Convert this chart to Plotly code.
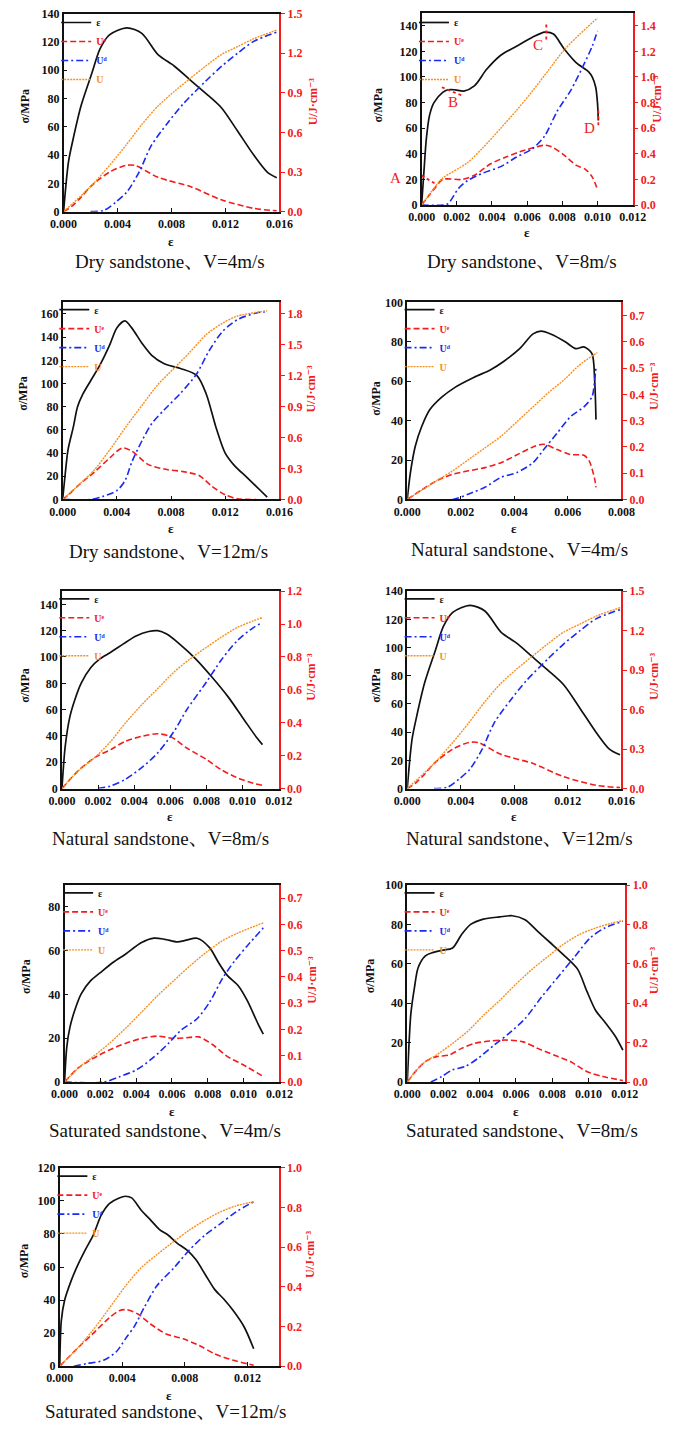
import plotly.graph_objects as go

# ======================= DATA =======================
# Panel 1: Dry sandstone, V=4m/s
dry4_sig_x = [0, 0.00036, 0.0007, 0.0013, 0.0021, 0.0027, 0.0034, 0.0047, 0.0058, 0.007, 0.0082, 0.0094, 0.0105, 0.0117, 0.0129, 0.0141, 0.0151, 0.0158]
dry4_sig_y = [0, 35, 51, 75, 98, 115, 125, 130, 126, 111, 103, 93, 84, 73.5, 57, 40, 28, 24]
dry4_ue_x = [0, 0.0006, 0.0013, 0.002, 0.0034, 0.0046, 0.0053, 0.007, 0.0094, 0.0117, 0.0141, 0.0158]
dry4_ue_y = [0, 0.04, 0.11, 0.19, 0.30, 0.35, 0.35, 0.26, 0.19, 0.09, 0.025, 0.007]
dry4_ud_x = [0.002, 0.003, 0.0039, 0.0047, 0.0056, 0.0065, 0.0077, 0.0089, 0.0105, 0.0117, 0.0129, 0.0141, 0.0158]
dry4_ud_y = [0, 0.01, 0.075, 0.15, 0.30, 0.50, 0.67, 0.82, 0.985, 1.10, 1.20, 1.29, 1.36]
dry4_u_x = [0, 0.002, 0.0034, 0.0046, 0.0058, 0.007, 0.0082, 0.0094, 0.0105, 0.0117, 0.0129, 0.0141, 0.0158]
dry4_u_y = [0, 0.19, 0.35, 0.50, 0.66, 0.80, 0.91, 1.01, 1.10, 1.19, 1.25, 1.31, 1.375]

# Panel 2: Dry sandstone, V=8m/s
dry8_sig_x = [0, 0.00013, 0.00027, 0.00045, 0.0007, 0.0012, 0.0015, 0.0019, 0.0024, 0.003, 0.0037, 0.0045, 0.0054, 0.0063, 0.007, 0.0075, 0.0081, 0.0088, 0.0095, 0.0097, 0.0099, 0.0100, 0.01005]
dry8_sig_y = [0, 26, 52, 70, 80, 88, 90, 90, 89, 93, 106, 117, 124, 131, 135, 133.5, 122, 111, 104, 100, 92, 80, 66]
dry8_ue_x = [0, 0.00045, 0.0008, 0.0012, 0.0023, 0.003, 0.0039, 0.0048, 0.0059, 0.007, 0.0074, 0.0081, 0.0088, 0.0093, 0.0097, 0.0100]
dry8_ue_y = [0, 0.08, 0.14, 0.20, 0.20, 0.233, 0.32, 0.375, 0.43, 0.467, 0.455, 0.39, 0.31, 0.28, 0.22, 0.12]
dry8_ud_x = [0, 0.0012, 0.0015, 0.0021, 0.0026, 0.0035, 0.0045, 0.0054, 0.0063, 0.007, 0.0077, 0.0085, 0.0092, 0.0097, 0.0100]
dry8_ud_y = [0, 0, 0.01, 0.13, 0.19, 0.25, 0.30, 0.375, 0.44, 0.54, 0.73, 0.90, 1.09, 1.24, 1.36]
dry8_u_x = [0, 0.00064, 0.0012, 0.0026, 0.0035, 0.0045, 0.0054, 0.0063, 0.0072, 0.0081, 0.009, 0.0100]
dry8_u_y = [0, 0.12, 0.21, 0.33, 0.45, 0.60, 0.74, 0.89, 1.05, 1.21, 1.335, 1.46]
# point markers A-D (dotted red marks and letters)
dry8_mark_labels = ["A", "B", "C", "D"]
dry8_mark_text_x = [-0.00145, 0.0018, 0.00664, 0.00955]
dry8_mark_text_y = [20.7, 80.4, 125, 60]
dry8_mark_seg_x = [[0, 0.0008], [0.00115, 0.00227], [0.00709, 0.00709], [0.01005, 0.01005]]
dry8_mark_seg_y = [[23, 16.5], [92, 85.6], [141, 127], [74, 60]]

# Panel 3: Dry sandstone, V=12m/s
dry12_sig_x = [0, 0.0002, 0.0004, 0.0008, 0.0011, 0.0015, 0.0021, 0.0028, 0.0035, 0.004, 0.0046, 0.0051, 0.0059, 0.0066, 0.0075, 0.0087, 0.0099, 0.0106, 0.0113, 0.012, 0.0127, 0.0136, 0.0146, 0.0151]
dry12_sig_y = [0, 23, 43, 63, 80, 91, 103, 117, 134, 148, 154, 148, 134, 124, 117, 113, 107, 91, 63, 40, 29, 19, 7.7, 2]
dry12_ue_x = [0, 0.0004, 0.0011, 0.0023, 0.0035, 0.0044, 0.0051, 0.0063, 0.0077, 0.0089, 0.0101, 0.011, 0.012, 0.0129, 0.0143]
dry12_ue_y = [0, 0.04, 0.13, 0.26, 0.405, 0.50, 0.47, 0.34, 0.29, 0.27, 0.23, 0.13, 0.045, 0.006, 0]
dry12_ud_x = [0, 0.0021, 0.003, 0.004, 0.0046, 0.0051, 0.0059, 0.0066, 0.0075, 0.0087, 0.0099, 0.0108, 0.0118, 0.0129, 0.0143, 0.0151]
dry12_ud_y = [0, 0, 0.03, 0.086, 0.18, 0.36, 0.58, 0.74, 0.87, 1.03, 1.22, 1.44, 1.63, 1.745, 1.81, 1.825]
dry12_u_x = [0, 0.0011, 0.0023, 0.0035, 0.0047, 0.0059, 0.007, 0.0082, 0.0094, 0.0106, 0.0118, 0.0129, 0.0151]
dry12_u_y = [0, 0.13, 0.28, 0.485, 0.71, 0.92, 1.11, 1.27, 1.43, 1.60, 1.71, 1.78, 1.83]

# Panel 4: Natural sandstone, V=4m/s
nat4_sig_x = [0, 0.00012, 0.0003, 0.00054, 0.00084, 0.0013, 0.0018, 0.0025, 0.0031, 0.0036, 0.0042, 0.0047, 0.005, 0.0054, 0.0059, 0.0063, 0.0066, 0.0069, 0.0070, 0.00705]
nat4_sig_y = [0, 13.7, 27, 37, 45.5, 52, 57, 62, 65.7, 70, 76.5, 84, 85.4, 83.7, 80, 76.5, 77.4, 74, 60.6, 40.5]
nat4_ue_x = [0, 0.0005, 0.0011, 0.0017, 0.0023, 0.0029, 0.0035, 0.0041, 0.0047, 0.0051, 0.0056, 0.0061, 0.0066, 0.0068, 0.007, 0.00705]
nat4_ue_y = [0, 0.034, 0.071, 0.096, 0.109, 0.121, 0.14, 0.17, 0.20, 0.21, 0.19, 0.171, 0.168, 0.146, 0.078, 0.046]
nat4_ud_x = [0, 0.0017, 0.0023, 0.0029, 0.0035, 0.0041, 0.0047, 0.0051, 0.0056, 0.0061, 0.0066, 0.0069, 0.0070, 0.00705]
nat4_ud_y = [0, 0, 0.021, 0.046, 0.084, 0.1025, 0.14, 0.19, 0.2525, 0.315, 0.3525, 0.39, 0.4525, 0.5025]
nat4_u_x = [0, 0.0011, 0.0017, 0.0023, 0.0029, 0.0035, 0.0041, 0.0047, 0.0053, 0.0059, 0.0064, 0.0071]
nat4_u_y = [0, 0.071, 0.109, 0.1525, 0.196, 0.24, 0.296, 0.3525, 0.409, 0.459, 0.509, 0.559]

# Panel 5: Natural sandstone, V=8m/s
nat8_sig_x = [0, 0.00018, 0.00044, 0.0007, 0.00106, 0.0016, 0.0021, 0.0027, 0.0034, 0.0041, 0.0048, 0.0053, 0.0058, 0.0065, 0.0074, 0.0083, 0.0092, 0.0101, 0.0108, 0.0111]
nat8_sig_y = [0, 32, 54.7, 67, 80, 92, 98.6, 103.6, 110, 116, 119.4, 120, 117.4, 110, 98.6, 84.8, 69.7, 52, 38.4, 33.4]
nat8_ue_x = [0, 0.00088, 0.0018, 0.0027, 0.0035, 0.0044, 0.0053, 0.006, 0.0069, 0.008, 0.0088, 0.0097, 0.0106, 0.0111]
nat8_ue_y = [0, 0.106, 0.187, 0.237, 0.287, 0.317, 0.333, 0.317, 0.247, 0.177, 0.116, 0.066, 0.032, 0.02]
nat8_ud_x = [0.002, 0.0027, 0.0035, 0.0044, 0.0053, 0.0062, 0.0069, 0.008, 0.0088, 0.0097, 0.0106, 0.0111]
nat8_ud_y = [0, 0.016, 0.056, 0.126, 0.217, 0.347, 0.478, 0.648, 0.779, 0.899, 0.979, 1.01]
nat8_u_x = [0, 0.00088, 0.0018, 0.0027, 0.0035, 0.0044, 0.0053, 0.0062, 0.0071, 0.008, 0.0088, 0.0097, 0.0106, 0.0111]
nat8_u_y = [0, 0.106, 0.187, 0.287, 0.397, 0.508, 0.608, 0.708, 0.789, 0.859, 0.919, 0.979, 1.02, 1.04]

# Panel 6: Natural sandstone, V=12m/s
nat12_sig_x = [0, 0.00036, 0.0007, 0.0013, 0.0021, 0.0027, 0.0034, 0.0047, 0.0058, 0.007, 0.0082, 0.0094, 0.0105, 0.0117, 0.0129, 0.0141, 0.0151, 0.0159]
nat12_sig_y = [0, 35, 51, 75, 98, 115, 125, 130, 126, 111, 103, 93, 84, 73.5, 57, 40, 28, 24]
nat12_ue_x = [0, 0.0006, 0.0013, 0.002, 0.0034, 0.0046, 0.0053, 0.007, 0.0094, 0.0117, 0.0141, 0.0159]
nat12_ue_y = [0, 0.04, 0.11, 0.19, 0.30, 0.35, 0.35, 0.26, 0.19, 0.09, 0.025, 0.007]
nat12_ud_x = [0.002, 0.003, 0.0039, 0.0047, 0.0056, 0.0065, 0.0077, 0.0089, 0.0105, 0.0117, 0.0129, 0.0141, 0.0159]
nat12_ud_y = [0, 0.01, 0.075, 0.15, 0.30, 0.50, 0.67, 0.82, 0.985, 1.10, 1.20, 1.29, 1.36]
nat12_u_x = [0, 0.002, 0.0034, 0.0046, 0.0058, 0.007, 0.0082, 0.0094, 0.0105, 0.0117, 0.0129, 0.0141, 0.0159]
nat12_u_y = [0, 0.19, 0.35, 0.50, 0.66, 0.80, 0.91, 1.01, 1.10, 1.19, 1.25, 1.31, 1.375]

# Panel 7: Saturated sandstone, V=4m/s
sat4_sig_x = [0, 0.000125, 0.0003, 0.00057, 0.00093, 0.00146, 0.002, 0.0027, 0.0034, 0.0043, 0.005, 0.0056, 0.0063, 0.0068, 0.0074, 0.0081, 0.0086, 0.0091, 0.0097, 0.0102, 0.0108, 0.0111]
sat4_sig_y = [0, 16, 25, 32.8, 40.3, 46.3, 50, 54.6, 58.4, 63.7, 65.7, 65.2, 64, 64.8, 65.7, 61.4, 54.6, 48.6, 44, 37.3, 26.7, 21.9]
sat4_ue_x = [0, 0.00075, 0.0016, 0.0025, 0.0034, 0.0043, 0.0052, 0.0061, 0.007, 0.0075, 0.0083, 0.0091, 0.01, 0.0111]
sat4_ue_y = [0, 0.053, 0.09, 0.122, 0.147, 0.166, 0.175, 0.166, 0.17, 0.172, 0.141, 0.097, 0.065, 0.021]
sat4_ud_x = [0, 0.0022, 0.0031, 0.004, 0.0049, 0.0058, 0.0065, 0.0074, 0.0081, 0.0088, 0.0095, 0.0102, 0.0111]
sat4_ud_y = [0, 0, 0.021, 0.046, 0.09, 0.147, 0.197, 0.241, 0.304, 0.392, 0.461, 0.518, 0.587]
sat4_u_x = [0, 0.00075, 0.0016, 0.0025, 0.0034, 0.0043, 0.0052, 0.0061, 0.007, 0.0079, 0.0088, 0.0097, 0.0111]
sat4_u_y = [0, 0.053, 0.097, 0.147, 0.204, 0.266, 0.329, 0.386, 0.442, 0.493, 0.537, 0.568, 0.606]

# Panel 8: Saturated sandstone, V=8m/s
sat8_sig_x = [0, 0.00009, 0.0002, 0.0004, 0.0006, 0.001, 0.0014, 0.0019, 0.0025, 0.003, 0.0035, 0.0042, 0.0051, 0.0058, 0.0065, 0.0072, 0.0079, 0.0086, 0.0094, 0.0099, 0.0104, 0.0109, 0.0115, 0.0119]
sat8_sig_y = [0, 18, 34.7, 48, 58, 64, 65.7, 66.8, 68, 74.9, 80, 82.7, 83.8, 84.4, 82.4, 76.5, 70.7, 64.8, 57.3, 46.4, 36.3, 30.5, 23, 16.2]
sat8_ue_x = [0, 0.00053, 0.001, 0.0016, 0.0023, 0.003, 0.0037, 0.0046, 0.0055, 0.0064, 0.0072, 0.0081, 0.009, 0.0099, 0.0108, 0.0119]
sat8_ue_y = [0, 0.062, 0.104, 0.129, 0.137, 0.171, 0.196, 0.209, 0.213, 0.204, 0.171, 0.137, 0.104, 0.054, 0.028, 0.008]
sat8_ud_x = [0.0013, 0.0019, 0.0025, 0.0032, 0.0039, 0.0048, 0.0056, 0.0065, 0.0074, 0.0083, 0.0092, 0.0101, 0.0109, 0.0119]
sat8_ud_y = [0, 0.028, 0.062, 0.079, 0.12, 0.188, 0.246, 0.322, 0.43, 0.531, 0.631, 0.732, 0.782, 0.816]
sat8_u_x = [0, 0.00053, 0.001, 0.0016, 0.0025, 0.0034, 0.0042, 0.0051, 0.006, 0.0069, 0.0078, 0.0086, 0.0095, 0.0104, 0.0113, 0.0119]
sat8_u_y = [0, 0.062, 0.104, 0.137, 0.196, 0.263, 0.338, 0.414, 0.497, 0.573, 0.64, 0.698, 0.749, 0.782, 0.807, 0.819]

# Panel 9: Saturated sandstone, V=12m/s
sat12_sig_x = [0, 0.0001, 0.0003, 0.00072, 0.00112, 0.00164, 0.00215, 0.00266, 0.00317, 0.0038, 0.0042, 0.0046, 0.0052, 0.0058, 0.0064, 0.0069, 0.0075, 0.0081, 0.0087, 0.0093, 0.0099, 0.0105, 0.0111, 0.0118, 0.0124]
sat12_sig_y = [0, 27.6, 39.5, 51.5, 60.5, 70.5, 79.5, 91.5, 98.4, 101.8, 102.8, 101.8, 94.5, 88.5, 82.5, 79.5, 74.5, 70.5, 64.5, 55.5, 46.5, 40.5, 33.5, 23.6, 10.6]
sat12_ue_x = [0, 0.0011, 0.0021, 0.0032, 0.0038, 0.0043, 0.005, 0.0058, 0.0068, 0.0079, 0.0089, 0.0099, 0.0111, 0.0124]
sat12_ue_y = [0, 0.088, 0.163, 0.246, 0.28, 0.285, 0.263, 0.213, 0.163, 0.138, 0.105, 0.063, 0.03, 0.005]
sat12_ud_x = [0.0009, 0.0017, 0.0028, 0.0036, 0.0042, 0.0048, 0.0054, 0.0062, 0.0073, 0.0083, 0.0093, 0.0103, 0.0113, 0.0124]
sat12_ud_y = [0, 0.013, 0.03, 0.072, 0.138, 0.205, 0.296, 0.404, 0.496, 0.587, 0.662, 0.72, 0.779, 0.829]
sat12_u_x = [0, 0.0011, 0.0021, 0.0032, 0.0042, 0.0052, 0.0062, 0.0073, 0.0083, 0.0093, 0.0103, 0.0113, 0.0124]
sat12_u_y = [0, 0.088, 0.18, 0.296, 0.404, 0.496, 0.562, 0.629, 0.687, 0.737, 0.779, 0.809, 0.829]

captions = ["Dry sandstone、V=4m/s", "Dry sandstone、V=8m/s", "Dry sandstone、V=12m/s",
            "Natural sandstone、V=4m/s", "Natural sandstone、V=8m/s", "Natural sandstone、V=12m/s",
            "Saturated sandstone、V=4m/s", "Saturated sandstone、V=8m/s", "Saturated sandstone、V=12m/s"]

series = [
    (dry4_sig_x, dry4_sig_y, dry4_ue_x, dry4_ue_y, dry4_ud_x, dry4_ud_y, dry4_u_x, dry4_u_y),
    (dry8_sig_x, dry8_sig_y, dry8_ue_x, dry8_ue_y, dry8_ud_x, dry8_ud_y, dry8_u_x, dry8_u_y),
    (dry12_sig_x, dry12_sig_y, dry12_ue_x, dry12_ue_y, dry12_ud_x, dry12_ud_y, dry12_u_x, dry12_u_y),
    (nat4_sig_x, nat4_sig_y, nat4_ue_x, nat4_ue_y, nat4_ud_x, nat4_ud_y, nat4_u_x, nat4_u_y),
    (nat8_sig_x, nat8_sig_y, nat8_ue_x, nat8_ue_y, nat8_ud_x, nat8_ud_y, nat8_u_x, nat8_u_y),
    (nat12_sig_x, nat12_sig_y, nat12_ue_x, nat12_ue_y, nat12_ud_x, nat12_ud_y, nat12_u_x, nat12_u_y),
    (sat4_sig_x, sat4_sig_y, sat4_ue_x, sat4_ue_y, sat4_ud_x, sat4_ud_y, sat4_u_x, sat4_u_y),
    (sat8_sig_x, sat8_sig_y, sat8_ue_x, sat8_ue_y, sat8_ud_x, sat8_ud_y, sat8_u_x, sat8_u_y),
    (sat12_sig_x, sat12_sig_y, sat12_ue_x, sat12_ue_y, sat12_ud_x, sat12_ud_y, sat12_u_x, sat12_u_y),
]

# ======================= LAYOUT (pixel geometry, axis ranges) =======================
W, H = 685, 1429
geo = [
    dict(xd=(51.7, 276.7), yd=(6.7, 206.7), xr=0.016, xdt=0.004, yr=140, y2r=1.5, y2dt=0.3, cap=(163, 257), xt=237, yt=(12, 100), y2t=(312, 95), leg=(44, 1)),
    dict(xd=(425, 645), yd=(6, 200), xr=0.012, xdt=0.002, yr=150, y2r=1.5, y2dt=0.2, cap=(530, 257), xt=228, yt=(380, 99), y2t=(671, 93), leg=(417, 1)),
    dict(xd=(50.7, 276.7), yd=(298.3, 497.3), xr=0.016, xdt=0.004, yr=170, y2r=1.9125, y2dt=0.3, cap=(161, 550), xt=527, yt=(10, 390), y2t=(310, 385), leg=(42, 291)),
    dict(xd=(410, 633.3), yd=(298.3, 497.3), xr=0.008, xdt=0.002, yr=100, y2r=0.75, y2dt=0.1, cap=(527, 548), xt=527, yt=(378, 395), y2t=(668, 383), leg=(402, 291)),
    dict(xd=(50, 276), yd=(590, 789.3), xr=0.012, xdt=0.002, yr=150, y2r=1.2, y2dt=0.2, cap=(153, 840), xt=818, yt=(12, 685), y2t=(310, 676), leg=(42, 583)),
    dict(xd=(410, 633.3), yd=(590, 789.3), xr=0.016, xdt=0.004, yr=140, y2r=1.5, y2dt=0.3, cap=(527, 840), xt=818, yt=(378, 685), y2t=(668, 676), leg=(402, 583)),
    dict(xd=(52.7, 276.7), yd=(886.7, 1085.7), xr=0.012, xdt=0.002, yr=90, y2r=0.75, y2dt=0.1, cap=(157, 1135), xt=1115, yt=(13, 979), y2t=(311, 982), leg=(46, 880)),
    dict(xd=(410, 636.7), yd=(886.7, 1085.7), xr=0.012, xdt=0.002, yr=100, y2r=1.0, y2dt=0.2, cap=(530, 1135), xt=1115, yt=(372, 978), y2t=(668, 973), leg=(402, 880)),
    dict(xd=(47.7, 276), yd=(1172.3, 1372.7), xr=0.014, xdt=0.004, yr=120, y2r=1.0, y2dt=0.2, cap=(158, 1418), xt=1402, yt=(10, 1266), y2t=(308, 1259), leg=(40, 1166)),
]
# pixel position of the "A" label (it sits left of the Dry 8 m/s axis)
A_LABEL_PX = (398, 173)

BLACK = "#111111"
RED = "#f21c1c"
BLUE = "#1b2af0"
ORANGE = "#f7901e"
SERIF = "Liberation Serif, DejaVu Serif"
CAPFONT = "Liberation Serif, Noto Serif CJK SC, Noto Sans CJK SC"


def fx(px):
    return px / W


def fy(py):
    return 1 - py / H


fig = go.Figure()
layout = dict(width=W, height=H, margin=dict(l=0, r=0, t=0, b=0),
              paper_bgcolor="white", plot_bgcolor="white", showlegend=True,
              font=dict(family=SERIF, size=12, color=BLACK))
annotations = []

tickfont = dict(family=SERIF, size=12, color=BLACK, weight="bold")

for i, (cap, s, g) in enumerate(zip(captions, series, geo)):
    n = i + 1
    xa = "x" if n == 1 else f"x{n}"
    ya = "y" if n == 1 else f"y{n}"
    ya2 = f"y{n + 9}"
    leg = "legend" if n == 1 else f"legend{n}"
    sx, sy, ex, ey, dx, dy, ux, uy = s

    common = dict(mode="lines", line_shape="spline", legend=leg, hoverinfo="skip")
    fig.add_trace(go.Scatter(x=sx, y=sy, xaxis=xa, yaxis=ya, name="ε",
                             line=dict(color=BLACK, width=1.7, smoothing=0.8), **common))
    fig.add_trace(go.Scatter(x=ex, y=ey, xaxis=xa, yaxis=ya2,
                             name=f'<span style="color:{RED}">Uᵉ</span>',
                             line=dict(color=RED, width=1.6, dash="6px,3px", smoothing=0.8), **common))
    fig.add_trace(go.Scatter(x=dx, y=dy, xaxis=xa, yaxis=ya2,
                             name=f'<span style="color:{BLUE}">Uᵈ</span>',
                             line=dict(color=BLUE, width=1.6, dash="7px,3px,2px,3px", smoothing=0.8), **common))
    fig.add_trace(go.Scatter(x=ux, y=uy, xaxis=xa, yaxis=ya2,
                             name=f'<span style="color:{ORANGE}">U</span>',
                             line=dict(color=ORANGE, width=1.4, dash="2px,1px", smoothing=0.8), **common))

    x0, x1 = g["xd"]
    y0, y1 = g["yd"]
    xkey = "xaxis" if n == 1 else f"xaxis{n}"
    ykey = "yaxis" if n == 1 else f"yaxis{n}"
    layout[xkey] = dict(domain=[fx(x0), fx(x1)], anchor=ya, range=[0, g["xr"]], dtick=g["xdt"], tick0=0,
                        tickformat=".3f", showline=True, linecolor=BLACK, linewidth=1.6, mirror=True,
                        ticks="inside", ticklen=4, tickwidth=1.3, tickcolor=BLACK, showgrid=False,
                        zeroline=False, tickfont=tickfont)
    layout[ykey] = dict(domain=[fy(y1), fy(y0)], anchor=xa, range=[0, g["yr"]], dtick=20, tick0=0,
                        showline=True, linecolor=BLACK, linewidth=1.6, ticks="inside", ticklen=4,
                        tickwidth=1.3, tickcolor=BLACK, showgrid=False, zeroline=False, tickfont=tickfont)
    layout[f"yaxis{n + 9}"] = dict(overlaying=ya, anchor=xa, side="right", range=[0, g["y2r"]],
                                   dtick=g["y2dt"], tick0=0, tickformat=".1f", showline=True,
                                   linecolor=RED, linewidth=1.6, ticks="outside", ticklen=4, tickwidth=1.3,
                                   tickcolor=RED, showgrid=False, zeroline=False,
                                   tickfont=dict(family=SERIF, size=12, color=RED, weight="bold"))
    lx, ly = g["leg"]
    layout[leg] = dict(x=fx(lx), y=fy(ly), xanchor="left", yanchor="top", bgcolor="rgba(0,0,0,0)",
                       borderwidth=0, tracegroupgap=0, itemwidth=30,
                       font=dict(family=SERIF, size=10, color=BLACK, weight="bold"))

    cx, cy = g["cap"]
    annotations.append(dict(text=cap, x=fx(cx), y=fy(cy), xref="paper", yref="paper", showarrow=False,
                            xanchor="center", yanchor="middle",
                            font=dict(family=CAPFONT, size=19, color=BLACK)))
    annotations.append(dict(text="ε", x=fx((x0 + x1) / 2), y=fy(g["xt"]), xref="paper", yref="paper",
                            showarrow=False, xanchor="center", yanchor="middle",
                            font=dict(family=SERIF, size=13, color=BLACK, weight="bold")))
    tx, ty = g["yt"]
    annotations.append(dict(text="σ/MPa", x=fx(tx), y=fy(ty), xref="paper", yref="paper", showarrow=False,
                            textangle=-90, xanchor="center", yanchor="middle",
                            font=dict(family=SERIF, size=12, color=BLACK, weight="bold")))
    tx2, ty2 = g["y2t"]
    annotations.append(dict(text="U/J·cm⁻³", x=fx(tx2), y=fy(ty2), xref="paper", yref="paper",
                            showarrow=False, textangle=-90, xanchor="center", yanchor="middle",
                            font=dict(family=SERIF, size=12, color=RED, weight="bold")))

# A-D markers on the Dry 8 m/s panel
for lab, tx, ty, segx, segy in zip(dry8_mark_labels, dry8_mark_text_x, dry8_mark_text_y,
                                   dry8_mark_seg_x, dry8_mark_seg_y):
    fig.add_trace(go.Scatter(x=segx, y=segy, xaxis="x2", yaxis="y2", mode="lines", showlegend=False,
                             hoverinfo="skip", line=dict(color=RED, width=1.8, dash="dot")))
    if lab == "A":
        annotations.append(dict(text=lab, x=fx(A_LABEL_PX[0]), y=fy(A_LABEL_PX[1]), xref="paper",
                                yref="paper", showarrow=False, xanchor="center", yanchor="middle",
                                font=dict(family=SERIF, size=15, color=RED)))
    else:
        annotations.append(dict(text=lab, x=tx, y=ty, xref="x2", yref="y2", showarrow=False,
                                xanchor="center", yanchor="middle",
                                font=dict(family=SERIF, size=15, color=RED)))

layout["annotations"] = annotations
fig.update_layout(**layout)
# remove the browser's default 8px page margin so the figure sits at the window origin
fig.write_html("out.html", config={"displayModeBar": False},
               post_script="document.body.style.margin='0px';")
